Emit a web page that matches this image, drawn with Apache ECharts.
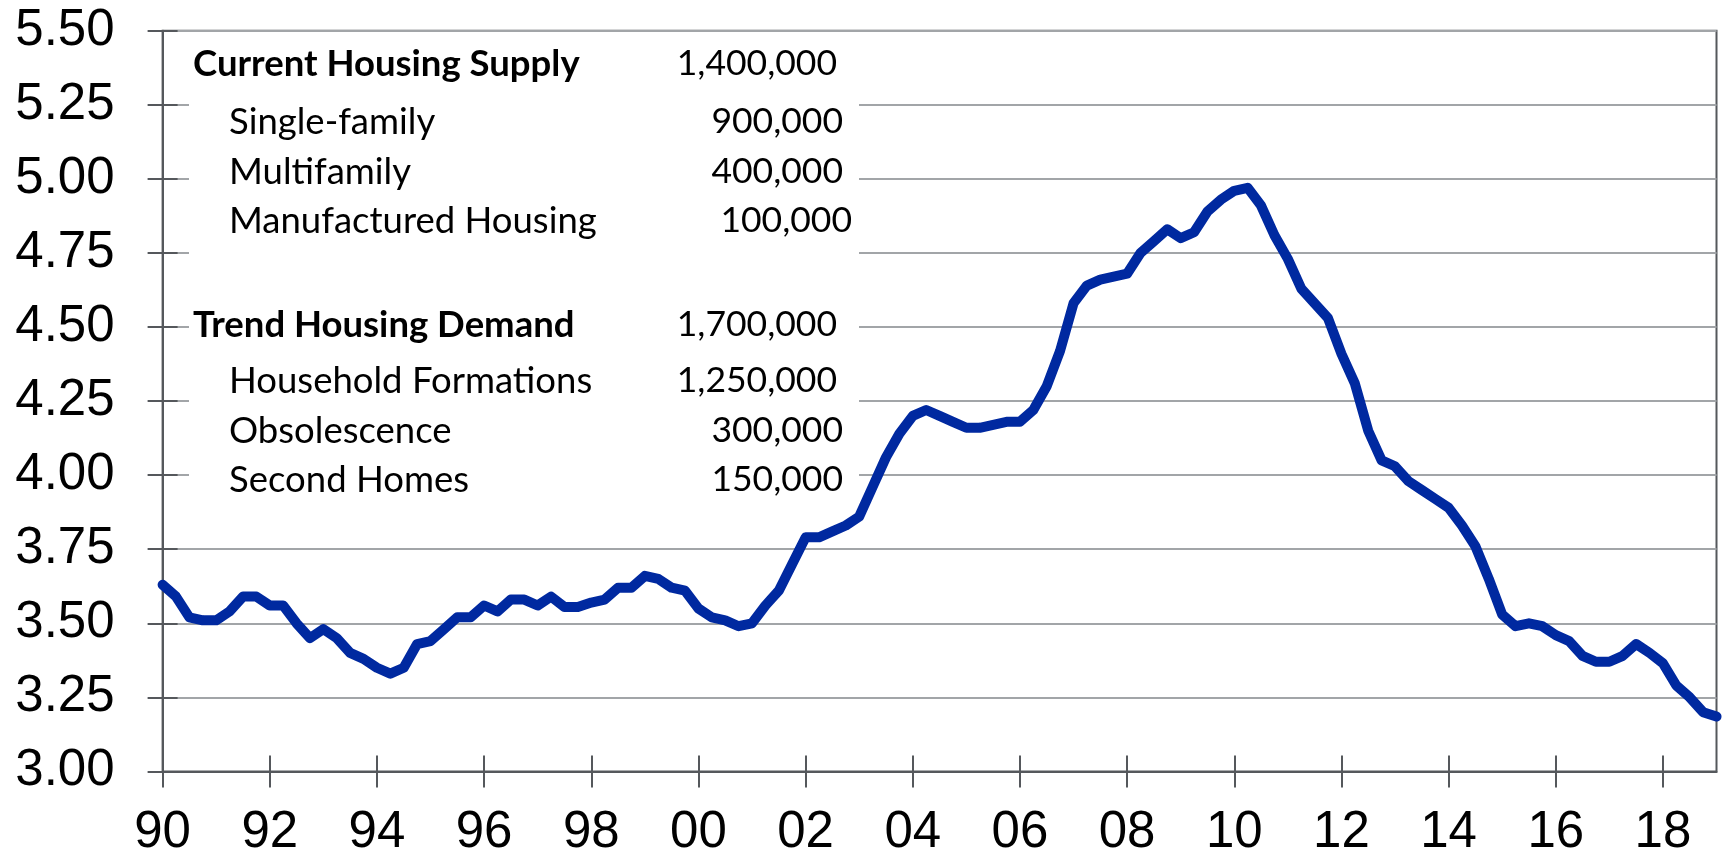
<!DOCTYPE html>
<html>
<head>
<meta charset="utf-8">
<script src="https://cdn.jsdelivr.net/npm/echarts@6/dist/echarts.min.js"></script>
<style>
  html, body { margin: 0; padding: 0; background: #fff; }
  #chart { width: 1723px; height: 859px; }
</style>
</head>
<body>
<div id="chart"></div>
<script>
// quarterly, 1990Q1 .. 2019Q1
const years = [];
for (let y = 1990; y <= 2019; y++) {
    for (let q = 1; q <= 4; q++) {
        if (y === 2019 && q > 1) break;
        years.push(y + 'Q' + q);
    }
}

const ratio = [
    3.63, 3.59, 3.52, 3.51,
    3.51, 3.54, 3.59, 3.59,
    3.56, 3.56, 3.50, 3.45,
    3.48, 3.45, 3.40, 3.38,
    3.35, 3.33, 3.35, 3.43,
    3.44, 3.48, 3.52, 3.52,
    3.56, 3.54, 3.58, 3.58,
    3.56, 3.59, 3.555, 3.555,
    3.57, 3.58, 3.62, 3.62,
    3.66, 3.65, 3.62, 3.61,
    3.55, 3.52, 3.51, 3.49,
    3.50, 3.56, 3.61, 3.70,
    3.79, 3.79, 3.81, 3.83,
    3.86, 3.96, 4.06, 4.14,
    4.20, 4.22, 4.20, 4.18,
    4.16, 4.16, 4.17, 4.18,
    4.18, 4.22, 4.30, 4.42,
    4.58, 4.64, 4.66, 4.67,
    4.68, 4.75, 4.79, 4.83,
    4.80, 4.82, 4.89, 4.93,
    4.96, 4.97, 4.91, 4.81,
    4.73, 4.63, 4.58, 4.53,
    4.41, 4.31, 4.15, 4.05,
    4.03, 3.98, 3.95, 3.92,
    3.89, 3.83, 3.76, 3.65,
    3.53, 3.49, 3.50, 3.49,
    3.46, 3.44, 3.39, 3.37,
    3.37, 3.39, 3.43, 3.40,
    3.365, 3.29, 3.25, 3.20,
    3.185
];

const supplyLabels = ['Current Housing Supply', 'Single-family', 'Multifamily', 'Manufactured Housing'];
const supplyValues = ['1,400,000', '900,000', '400,000', '100,000'];
const demandLabels = ['Trend Housing Demand', 'Household Formations', 'Obsolescence', 'Second Homes'];
const demandValues = ['1,700,000', '1,250,000', '300,000', '150,000'];

const axisGrey = '#55585c';
const gridGrey = '#a2a5a8';
const lineBlue = '#0029a0';

function yearTick(index) {
    return index % 8 === 0;
}

// text block over the plot (white box hides the grid lines)
const rowsY = [[64, 122, 172, 221], [325, 381, 431, 480]];
const valueRight = [[837, 843, 843, 852], [837, 837, 843, 843]];
const textEls = [{
    type: 'rect',
    z: 1,
    shape: { x: 189, y: 36, width: 670, height: 474 },
    style: { fill: '#fff' }
}];
[[supplyLabels, supplyValues], [demandLabels, demandValues]].forEach(function (blk, b) {
    blk[0].forEach(function (t, i) {
        textEls.push({
            type: 'text', z: 3,
            style: {
                text: t, x: i === 0 ? 193 : 229, y: rowsY[b][i],
                font: (i === 0 ? 'bold ' : '') + '36.5px Lato',
                fill: '#000', align: 'left', verticalAlign: 'middle'
            }
        });
        textEls.push({
            type: 'text', z: 3,
            style: {
                text: blk[1][i], x: valueRight[b][i], y: rowsY[b][i],
                font: '35.5px Lato',
                fill: '#000', align: 'right', verticalAlign: 'middle'
            }
        });
    });
});

const option = {
    animation: false,
    backgroundColor: '#fff',
    grid: {
        left: 162.6, right: 6.5, top: 30.8, bottom: 87.6,
        show: true, borderColor: axisGrey, borderWidth: 2
    },
    xAxis: [
        {
            type: 'category',
            data: years,
            boundaryGap: false,
            axisLine: { lineStyle: { color: axisGrey, width: 2 } },
            axisTick: { interval: yearTick, length: 16, lineStyle: { color: axisGrey, width: 2 } },
            axisLabel: {
                interval: yearTick,
                margin: 36,
                fontSize: 51,
                fontFamily: 'Liberation Sans',
                color: '#000',
                formatter: function (v) { return v.slice(2, 4); }
            },
            splitLine: { show: false }
        },
        {
            type: 'category',
            data: years,
            boundaryGap: false,
            position: 'bottom',
            axisLine: { show: false },
            axisTick: { inside: true, interval: yearTick, length: 16, lineStyle: { color: axisGrey, width: 2 } },
            axisLabel: { show: false },
            splitLine: { show: false }
        }
    ],
    yAxis: [
        {
            type: 'value',
            min: 3,
            max: 5.5,
            interval: 0.25,
            axisLine: { show: true, lineStyle: { color: axisGrey, width: 2 } },
            axisTick: { show: true, length: 15, lineStyle: { color: axisGrey, width: 2 } },
            axisLabel: {
                margin: 48,
                fontSize: 51,
                fontFamily: 'Liberation Sans',
                color: '#000',
                formatter: function (v) { return v.toFixed(2); }
            },
            splitLine: { lineStyle: { color: gridGrey, width: 2 } }
        },
        {
            type: 'value',
            min: 3,
            max: 5.5,
            interval: 0.25,
            position: 'left',
            axisLine: { show: false },
            axisTick: { show: true, inside: true, length: 15, lineStyle: { color: axisGrey, width: 2 } },
            axisLabel: { show: false },
            splitLine: { show: false }
        }
    ],
    graphic: { elements: textEls },
    series: [
        {
            type: 'line',
            data: ratio,
            xAxisIndex: 0,
            yAxisIndex: 0,
            z: 5,
            showSymbol: false,
            lineStyle: { color: lineBlue, width: 10, join: 'round', cap: 'round' }
        }
    ]
};

const chart = echarts.init(document.getElementById('chart'));
chart.setOption(option);
</script>
</body>
</html>
